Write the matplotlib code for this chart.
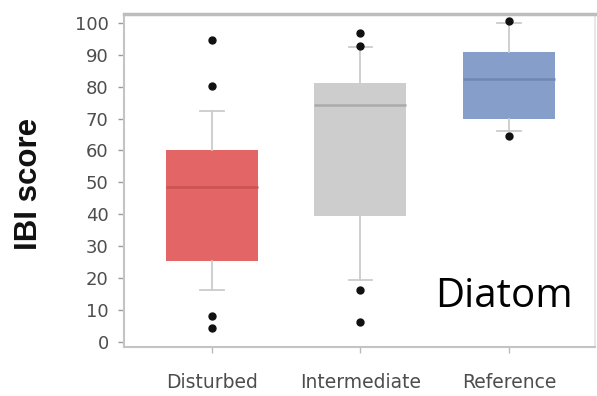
import matplotlib
matplotlib.use("Agg")
import matplotlib.pyplot as plt

categories = ["Disturbed", "Intermediate", "Reference"]
q1 = [25.4, 39.5, 69.9]
medians = [48.5, 74.3, 82.4]
q3 = [60.2, 81.2, 90.8]
whisk_lo = [16.3, 19.6, 66.0]
whisk_hi = [72.4, 92.3, 100.0]
outliers = [[94.7, 80.3, 8.2, 4.5], [96.8, 92.6, 16.3, 6.2], [100.4, 64.4]]
box_colors = ["#E46565", "#CDCDCD", "#869FCA"]
median_colors = ["#C95353", "#ABABAB", "#6F87B6"]
yticks = list(range(0, 101, 10))

fig = plt.figure(figsize=(5.97, 3.96), dpi=100)
ax = fig.add_axes([124 / 597, 1 - 347 / 396, (595 - 124) / 597, (347 - 14) / 396])

stats = []
for i, c in enumerate(categories):
    stats.append(dict(label=c, q1=q1[i], med=medians[i], q3=q3[i],
                      whislo=whisk_lo[i], whishi=whisk_hi[i], fliers=outliers[i]))

bp = ax.bxp(stats, positions=range(len(categories)), widths=0.62, patch_artist=True,
            capwidths=0.16,
            boxprops=dict(linewidth=0),
            whiskerprops=dict(color="#CCCCCC", linewidth=1.3),
            capprops=dict(color="#CCCCCC", linewidth=1.3),
            flierprops=dict(marker="o", markerfacecolor="#111111", markeredgecolor="#111111",
                            markersize=5, linestyle="none"))
for patch, col in zip(bp["boxes"], box_colors):
    patch.set_facecolor(col)
    patch.set_edgecolor(col)
for med, col in zip(bp["medians"], median_colors):
    med.set_color(col)
    med.set_linewidth(1.8)

ax.set_xlim(-0.593, 2.58)
ax.set_ylim(-1.5, 102.7)
ax.set_yticks(yticks)
ax.set_yticklabels([str(t) for t in yticks], family="DejaVu Sans")
ax.set_xticks(range(len(categories)))
ax.set_xticklabels(categories, family="DejaVu Sans")
ax.tick_params(axis="y", colors="#9A9A9A", labelcolor="#4D4D4D", labelsize=13, length=4, width=1, pad=7)
ax.tick_params(axis="x", colors="#BBBBBB", labelcolor="#4D4D4D", labelsize=13.5, length=4, width=1, pad=15)
for s in ax.spines.values():
    s.set_color("#C4C4C4")
    s.set_linewidth(1.5)
ax.spines["top"].set_color("#BDBDBD")
ax.spines["top"].set_linewidth(2.5)
ax.spines["right"].set_color("#E8E8E8")

ax.set_ylabel("IBI score", fontsize=22.5, fontweight="bold", family="Liberation Sans", color="#111111")
ax.yaxis.set_label_coords(-0.170, 0.49)

ax.text(1.966, 11.0, "Diatom", fontsize=29, family="Open Sans", color="black", ha="center", va="baseline")

fig.savefig("out.png", dpi=100)
